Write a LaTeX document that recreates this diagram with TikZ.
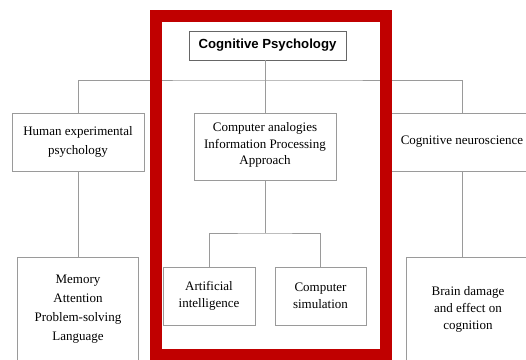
\documentclass[tikz,border=0pt]{standalone}
\usepackage{fontspec}
\setmainfont{Liberation Serif}
\newfontfamily\headfont{Liberation Sans}
\usepackage{xcolor}
\definecolor{framered}{HTML}{C00000}
\definecolor{boxgray}{HTML}{9A9A9A}
\tikzset{bx/.style={rectangle,draw=boxgray,line width=0.9pt,fill=white,inner sep=0pt,align=center,font=\fontsize{13}{17}\selectfont},
  ln/.style={draw=boxgray,line width=0.9pt}}

\begin{document}
\begin{tikzpicture}[x=1pt,y=-1pt]
\useasboundingbox (0,0) rectangle (526,359);
\clip (0,0) rectangle (526,359);
\fill[white] (0,0) rectangle (526,359);
\node[bx,draw=black!60,minimum width=157,minimum height=29,font=\headfont\bfseries\fontsize{13.2}{15}\selectfont] (cog) at (267.5,45.5) {Cognitive Psychology};
\node[bx,minimum width=132,minimum height=58,font=\fontsize{13}{18.5}\selectfont] (hum) at (78,142) {Human experimental\\psychology};
\node[bx,minimum width=142,minimum height=67,font=\fontsize{13}{16.5}\selectfont] (comp) at (265,146.5) {Computer analogies\\Information Processing\\Approach\\[-10.5pt]};
\node[bx,minimum width=142,minimum height=58] (neuro) at (462,142) {Cognitive neuroscience};
\node[bx,minimum width=121,minimum height=105,font=\fontsize{13}{19}\selectfont] (mem) at (78,309.5) {Memory\\Attention\\Problem-solving\\Language};
\node[bx,minimum width=92,minimum height=58] (ai) at (209,296) {Artificial\\intelligence};
\node[bx,minimum width=91,minimum height=58] (sim) at (320.5,296) {Computer\\simulation};
\node[bx,minimum width=124,minimum height=105] (brain) at (468,309.5) {Brain damage\\and effect on\\cognition};
\coordinate (bar) at (265,80);
\coordinate (sub) at (265,233);
\draw[ln] (cog.south -| comp.north) -- (comp.north);
\draw[ln] (hum.north) |- (bar) -| (neuro.north);
\draw[ln] (hum.south) -- (mem.north);
\draw[ln] (neuro.south) -- (neuro.south |- brain.north);
\draw[ln] (comp.south) -- (sub);
\draw[ln] (ai.north) |- (sub) -| (sim.north);
% red highlight
\draw[framered,line width=12] (156,16) rectangle (385.5,354.5);
\end{tikzpicture}
\end{document}
